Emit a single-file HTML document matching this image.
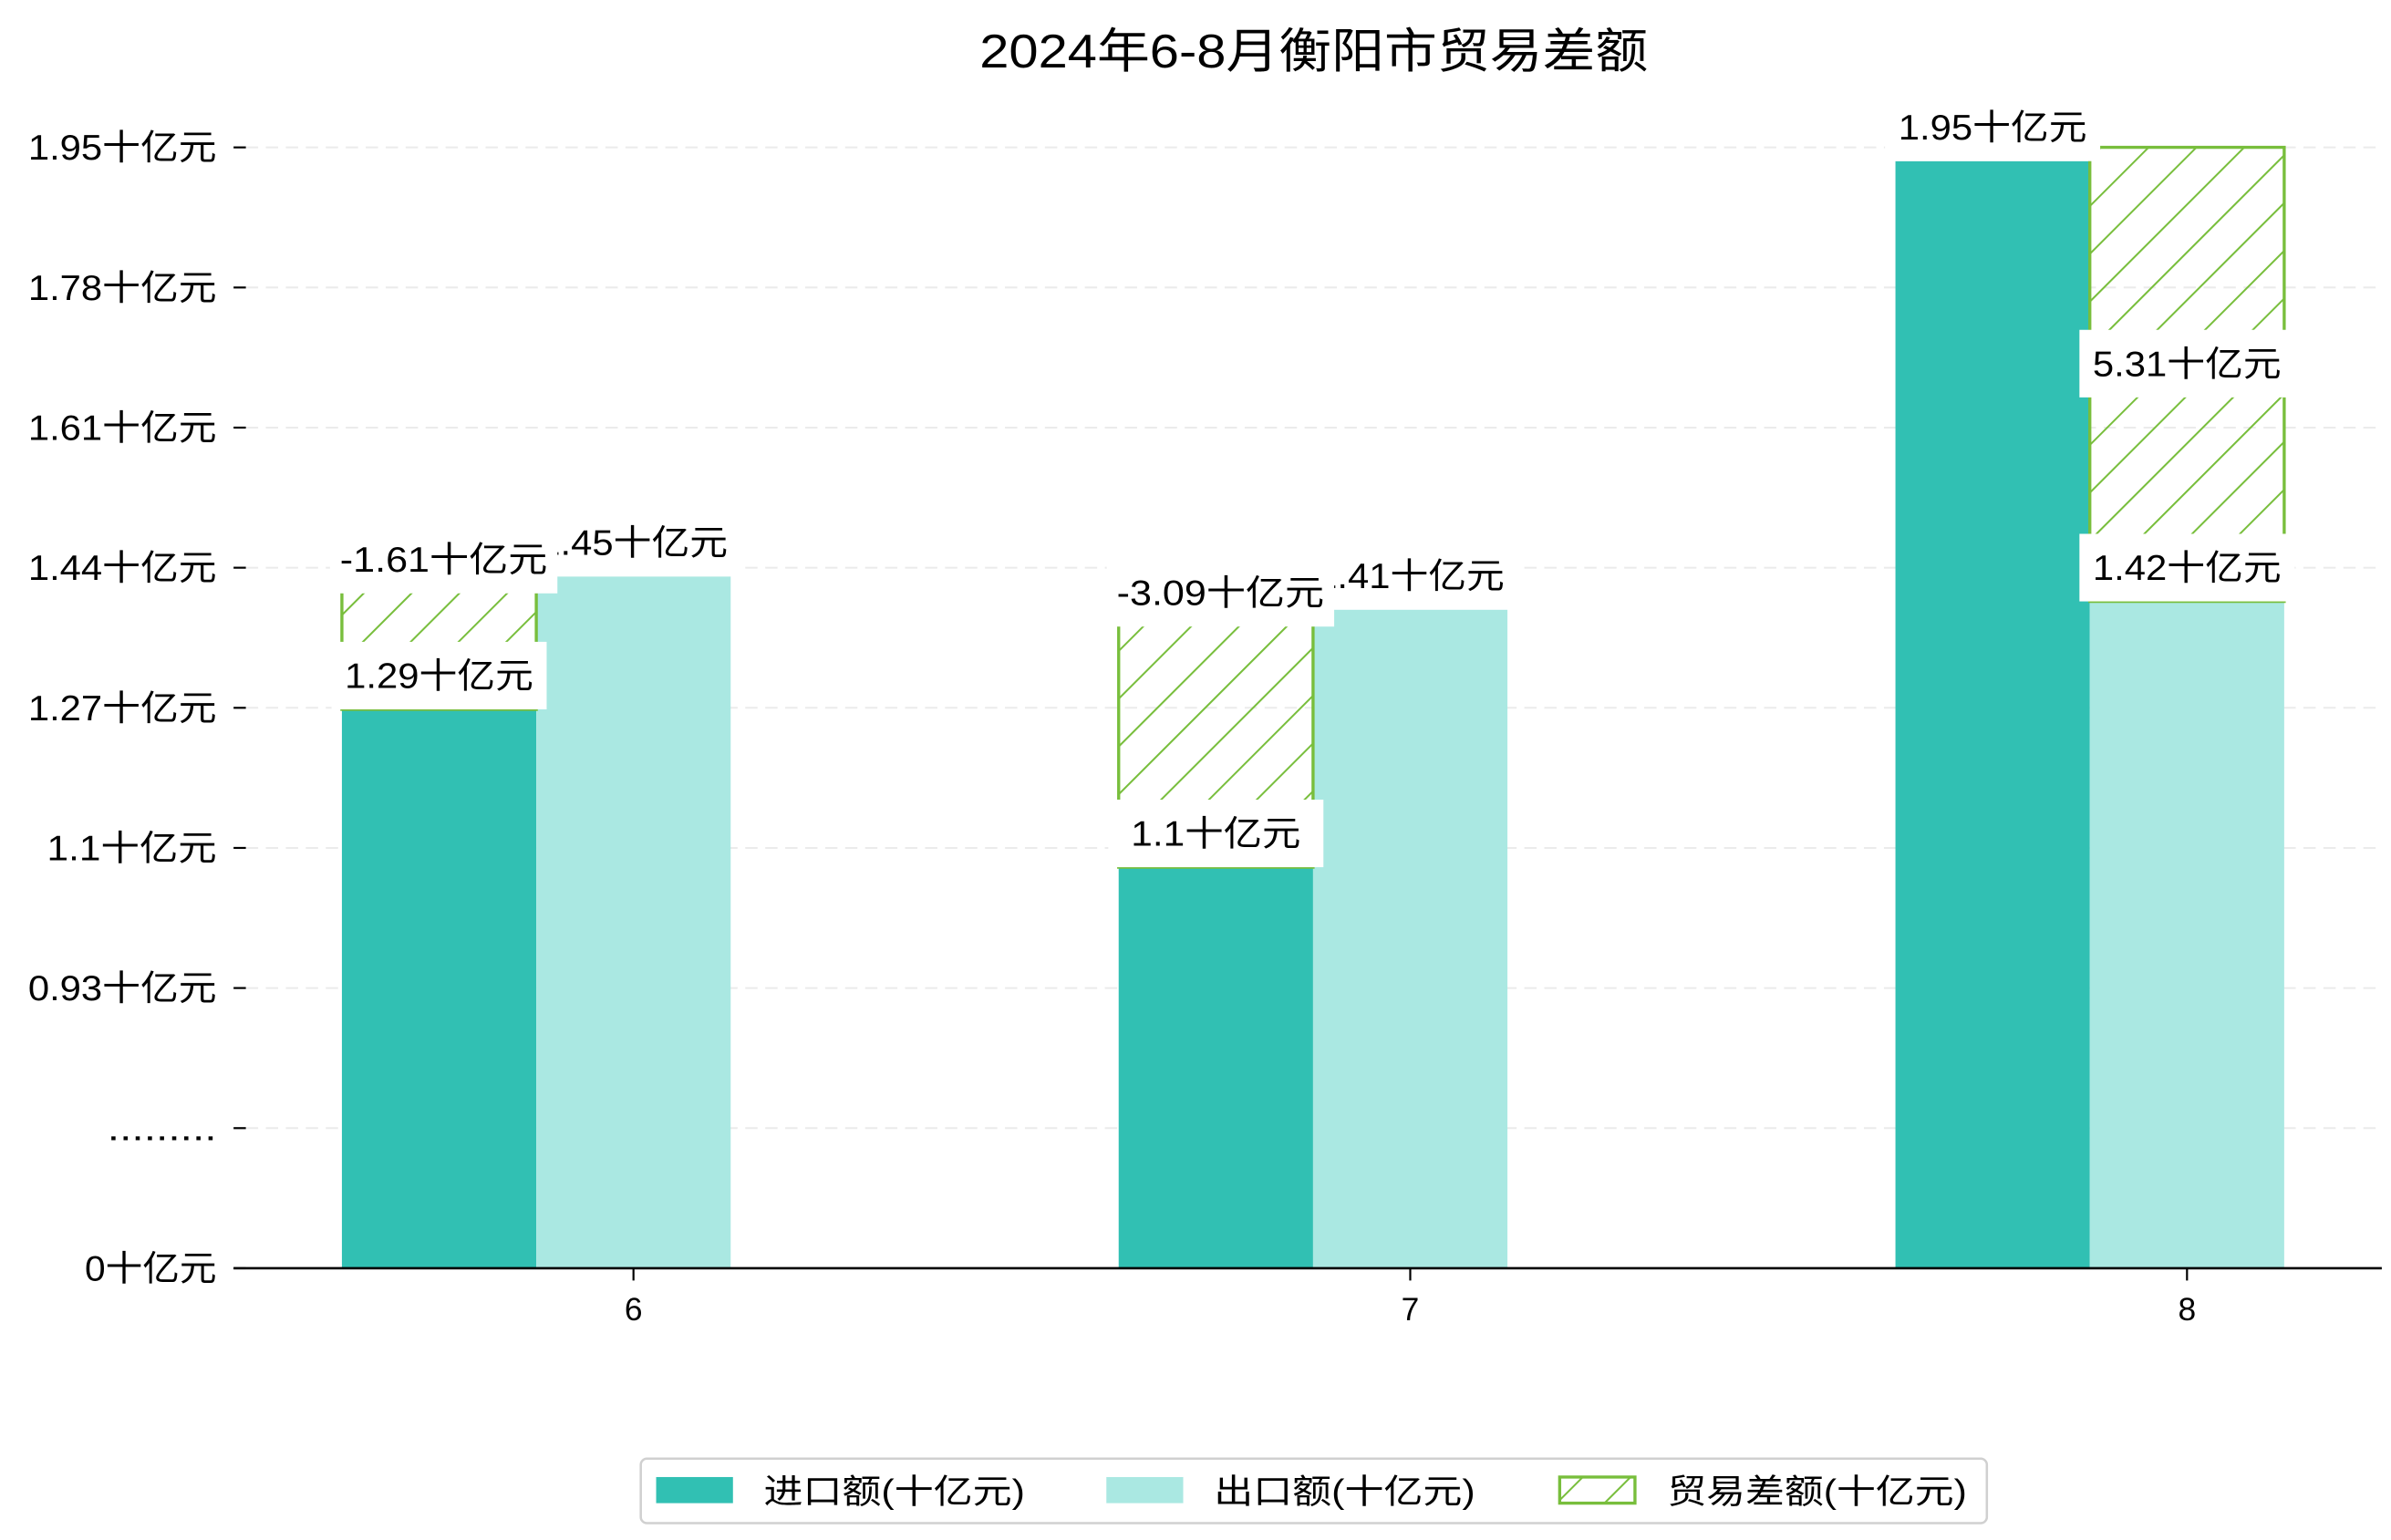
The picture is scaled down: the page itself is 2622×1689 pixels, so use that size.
<!DOCTYPE html>
<html><head><meta charset="utf-8"><style>
html,body{margin:0;padding:0;background:#fff;}
svg{display:block;}
text{font-family:"Liberation Sans","Noto Sans CJK SC","WenQuanYi Zen Hei",sans-serif;fill:#000;}
</style></head><body>
<svg id="chart" width="2622" height="1689" viewBox="0 0 1556 1003" preserveAspectRatio="none" xmlns="http://www.w3.org/2000/svg">
<defs>
<pattern id="hatch" patternUnits="userSpaceOnUse" width="22" height="22" patternTransform="rotate(45)">
<line x1="0" y1="0" x2="0" y2="22" stroke="#78BE3C" stroke-width="2.4"/>
</pattern>
</defs>
<text x="855" y="44" font-size="31" text-anchor="middle" textLength="435" lengthAdjust="spacingAndGlyphs">2024年6-8月衡阳市贸易差额</text>
<g id="grid"></g><g id="bars"></g><g id="labels"></g><g id="axes"></g>
<g>
<rect x="417" y="950" width="876" height="42" rx="4" fill="#fff" stroke="#d0d0d0" stroke-width="1.5"/>
<rect x="427" y="962" width="50" height="17" fill="#31C0B3"/>
<text x="497" y="979" font-size="22" textLength="170" lengthAdjust="spacingAndGlyphs">进口额(十亿元)</text>
<rect x="720" y="962" width="50" height="17" fill="#AAE8E2"/>
<text x="790" y="979" font-size="22" textLength="170" lengthAdjust="spacingAndGlyphs">出口额(十亿元)</text>
<rect x="1015" y="962" width="49" height="17" fill="url(#hatch)" stroke="#78BE3C" stroke-width="2"/>
<text x="1085" y="979" font-size="22" textLength="195" lengthAdjust="spacingAndGlyphs">贸易差额(十亿元)</text>
</g>
</svg>
<script>
const months = ['6','7','8'];
const importVals = [1.29, 1.10, 1.95];
const exportVals = [1.45, 1.41, 1.42];
const balanceVals = [-1.61, -3.09, 5.31];
const tickLabels = ['0十亿元','.........','0.93十亿元','1.1十亿元','1.27十亿元','1.44十亿元','1.61十亿元','1.78十亿元','1.95十亿元'];

const NS = 'http://www.w3.org/2000/svg';
const baseY = 826, topY = 96, plotL = 152, plotR = 1550;
const vBase = 0.6172, pxPerUnit = 541;
function yScale(v){ return baseY - (v - vBase) * pxPerUnit; }
function xCenter(i){ return 349 + i * 505.5; }
const barW = 126.5;
function mk(tag, attrs, parent){ const e = document.createElementNS(NS, tag); for (const k in attrs) e.setAttribute(k, attrs[k]); parent.appendChild(e); return e; }
function txtLen(s){ if (/^\.+$/.test(s)) return s.length * 7.9; let w = 0; for (const ch of s) w += ch.charCodeAt(0) > 255 ? 24.5 : 12.3; return w; }
const grid = document.getElementById('grid'), bars = document.getElementById('bars'), labels = document.getElementById('labels'), axes = document.getElementById('axes');

tickLabels.forEach((t, i) => {
  const y = baseY - i * (baseY - topY) / (tickLabels.length - 1);
  if (i > 0) {
    const g = mk('line', {x1: 160, x2: plotR, y1: y, y2: y, stroke: '#ebebeb', 'stroke-width': 1.2, 'stroke-dasharray': '8,5'}, grid);
    
    
  }
  const tk = mk('line', {x1: 152, x2: 160, y1: y, y2: y, stroke: '#000', 'stroke-width': 1.3}, axes);
  
  
  const tx = mk('text', {x: 141, y: y + 8, 'font-size': 23, 'text-anchor': 'end', textLength: txtLen(t), lengthAdjust: 'spacingAndGlyphs'}, axes);
  tx.textContent = t;
  
  
});
const ax = mk('line', {x1: plotL, x2: plotR, y1: baseY, y2: baseY, stroke: '#000', 'stroke-width': 1.6}, axes);



function labelBox(txt, cx, cy, w, name){
  const r = mk('rect', {x: cx - w/2, y: cy - 22, width: w, height: 44, fill: '#fff'}, labels);
  
  
  const t = mk('text', {x: cx, y: cy + 8, 'font-size': 23, 'text-anchor': 'middle', textLength: txtLen(txt), lengthAdjust: 'spacingAndGlyphs'}, labels);
  t.textContent = txt;
  
  
}

months.forEach((m, i) => {
  const c = xCenter(i);
  const yi = yScale(importVals[i]), ye = yScale(exportVals[i]);
  const bi = mk('rect', {x: c - barW, y: yi, width: barW, height: baseY - yi, fill: '#31C0B3'}, bars);
  
  
  const be = mk('rect', {x: c, y: ye, width: barW, height: baseY - ye, fill: '#AAE8E2'}, bars);
  
  
  const lo = Math.min(importVals[i], exportVals[i]), hi = Math.max(importVals[i], exportVals[i]);
  const hx = importVals[i] < exportVals[i] ? c - barW : c;
  const hTop = yScale(hi) - (balanceVals[i] > 0 ? 9 : 0);
  const hb = mk('rect', {x: hx, y: hTop, width: barW, height: yScale(lo) - hTop, fill: 'url(#hatch)', stroke: '#78BE3C', 'stroke-width': 2}, bars);
  
  
  const xt = mk('line', {x1: c + barW/2, x2: c + barW/2, y1: baseY, y2: baseY + 8, stroke: '#000', 'stroke-width': 1.3}, axes);
  
  
  const xl = mk('text', {x: c + barW/2, y: baseY + 34, 'font-size': 21, 'text-anchor': 'middle'}, axes);
  xl.textContent = m;
  
  

  labelBox(exportVals[i].toFixed(2).replace(/0$/, '') + '十亿元', c + barW/2, ye - 22, 140, 'label-export-' + m);
  labelBox(String(importVals[i]) + '十亿元', c - barW/2, yi - 22, 140, 'label-import-' + m);
  const bal = balanceVals[i].toFixed(2) + '十亿元';
  if (balanceVals[i] < 0) labelBox(bal, c - barW/2 + 3, yScale(hi) - 11, 148, 'label-balance-' + m);
  else labelBox(bal, hx + barW/2, (hTop + yScale(lo)) / 2 - 7, 140, 'label-balance-' + m);
});
</script>
</body></html>
